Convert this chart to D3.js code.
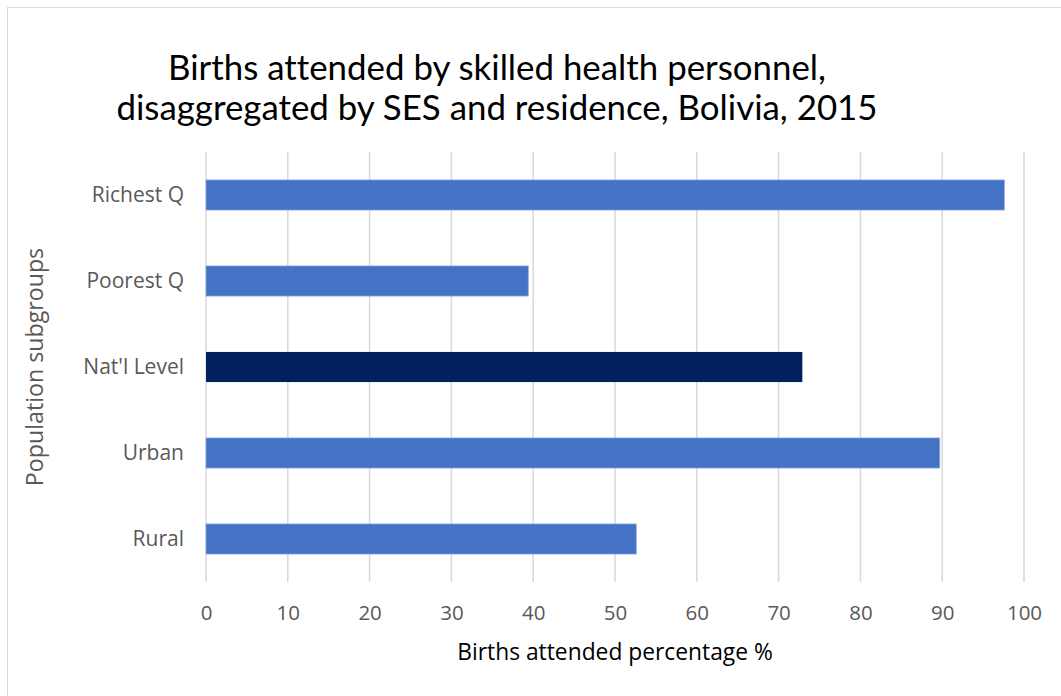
<!DOCTYPE html>
<html><head><meta charset="utf-8">
<script src="https://cdn.jsdelivr.net/npm/d3@7"></script>
<style>body{margin:0;background:#fff;} svg{display:block;} text{font-variant-ligatures:none;font-feature-settings:"liga" 0;}</style>
</head><body>
<script>
const categories = ["Richest Q", "Poorest Q", "Nat'l Level", "Urban", "Rural"];
const values = [97.6, 39.4, 72.9, 89.7, 52.6];
const highlight = ["Nat'l Level"];
const xTicks = [0,10,20,30,40,50,60,70,80,90,100];
const titleLines = ["Births attended by skilled health personnel,", "disaggregated by SES and residence, Bolivia, 2015"];
const xTitle = "Births attended percentage %";
const yTitle = "Population subgroups";

const W = 1061, H = 696;
const svg = d3.select("body").append("svg").attr("width", W).attr("height", H);
svg.append("rect").attr("x",7.5).attr("y",7.5).attr("width",1100).attr("height",720)
  .attr("fill","#fff").attr("stroke","#d9d9d9").attr("stroke-width",1);

const m = {left:206, right:1024, top:152, bottom:582};
const x = d3.scaleLinear().domain([0,100]).range([m.left, m.right]);
const y = d3.scaleBand().domain(categories).range([m.top, m.bottom]).paddingInner(0.65).paddingOuter(0.325);

const titleFont = "Lato,'Open Sans',sans-serif";
const labelFont = "'Open Sans','Noto Sans',sans-serif";

// gridlines
svg.append("g").selectAll("line").data(xTicks).join("line")
  .attr("x1", d=>x(d)).attr("x2", d=>x(d)).attr("y1", m.top).attr("y2", m.bottom)
  .attr("stroke","#d9d9d9").attr("stroke-width",1.5);

// bars
svg.append("g").selectAll("rect").data(categories).join("rect")
  .attr("x", x(0)).attr("y", d=>y(d)).attr("height", y.bandwidth())
  .attr("width", (d,i)=>x(values[i]) - x(0))
  .attr("fill", d=> highlight.includes(d) ? "#002060" : "#4472c4")
  .attr("stroke", d=> highlight.includes(d) ? "none" : "#8eaadb").attr("stroke-width",0.8);

// x axis
const xa = svg.append("g").attr("transform",`translate(0,${m.bottom+31})`)
  .call(d3.axisBottom(x).tickValues(xTicks).tickSize(0).tickPadding(0));
xa.select(".domain").remove();
xa.selectAll("text").attr("font-family",labelFont).attr("font-size",20.5).attr("fill","#595959").attr("dy","0.35em");

// y axis
const ya = svg.append("g").attr("transform",`translate(184,0)`)
  .call(d3.axisLeft(y).tickSize(0).tickPadding(0));
ya.select(".domain").remove();
ya.selectAll("text").attr("font-family",labelFont).attr("font-size",21).attr("fill","#595959").attr("dy","0.35em");

// title
const title = svg.append("text").attr("text-anchor","middle").attr("font-family",titleFont).attr("font-size",32).attr("fill","#000");
title.selectAll("tspan").data(titleLines).join("tspan")
  .attr("x",497).attr("y",(d,i)=>80 + i*40).text(d=>d);
const l1 = title.select("tspan").node().getComputedTextLength();
if (l1 > 0) title.attr("font-size", 32 * 658 / l1);

// axis titles
svg.append("text").attr("x",615).attr("y",660).attr("text-anchor","middle")
  .attr("font-family",labelFont).attr("font-size",22.8).attr("fill","#000").text(xTitle);
svg.append("text").attr("transform","translate(43,367) rotate(-90)").attr("text-anchor","middle")
  .attr("font-family",labelFont).attr("font-size",23.2).attr("fill","#595959").text(yTitle);
</script>
</body></html>
